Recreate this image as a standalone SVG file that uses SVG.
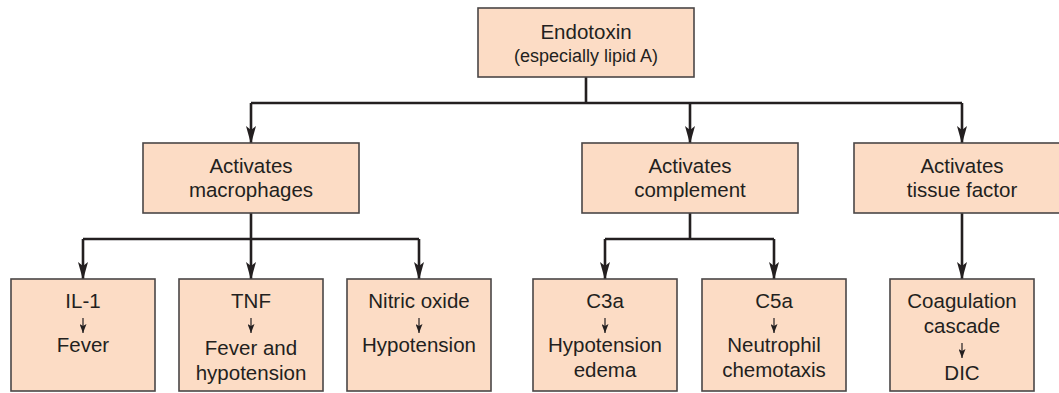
<svg xmlns="http://www.w3.org/2000/svg" width="1059" height="393" viewBox="0 0 1059 393">
<defs>
<style>
.box{fill:#fcdcc5;stroke:#4a4646;stroke-width:1.6}
.t{font-family:"Liberation Sans",Arial,sans-serif;font-size:20.5px;fill:#231f20;text-anchor:middle}
.s{font-size:18px}
.c{fill:none;stroke:#231f20;stroke-width:2.6}
.sm{fill:none;stroke:#231f20;stroke-width:1.2}
</style>
<marker id="ah" viewBox="0 0 18 10" refX="17" refY="5" markerWidth="18" markerHeight="10" orient="auto" markerUnits="userSpaceOnUse"><path d="M0,0 L18,5 L0,10 L4,5 z" fill="#231f20"/></marker>
<marker id="sa" viewBox="0 0 9 7" refX="9" refY="3.5" markerWidth="9" markerHeight="7" orient="auto" markerUnits="userSpaceOnUse"><path d="M0,0 L9,3.5 L0,7 L2,3.5 z" fill="#231f20"/></marker>
</defs>
<rect width="1059" height="393" fill="#ffffff"/>
<g id="connectors">
<path class="c" d="M586,77 V103 M251,103 H962"/>
<path class="c" d="M251,103 V143" marker-end="url(#ah)"/>
<path class="c" d="M690,103 V143" marker-end="url(#ah)"/>
<path class="c" d="M962,103 V143" marker-end="url(#ah)"/>
<path class="c" d="M251,213 V239 M83,239 H419 M605,239 H774 M690,213 V239"/>
<path class="c" d="M83,239 V279" marker-end="url(#ah)"/>
<path class="c" d="M251,239 V279" marker-end="url(#ah)"/>
<path class="c" d="M419,239 V279" marker-end="url(#ah)"/>
<path class="c" d="M605,239 V279" marker-end="url(#ah)"/>
<path class="c" d="M774,239 V279" marker-end="url(#ah)"/>
<path class="c" d="M962,213 V279" marker-end="url(#ah)"/>
</g>
<g id="endotoxin">
<rect class="box" x="478" y="8" width="216" height="69"/>
<text class="t" x="586" y="39">Endotoxin</text>
<text class="t s" x="586" y="62">(especially lipid A)</text>
</g>
<g id="macrophages">
<rect class="box" x="143" y="143" width="216" height="70"/>
<text class="t" x="251" y="173">Activates</text>
<text class="t" x="251" y="197">macrophages</text>
</g>
<g id="complement">
<rect class="box" x="582" y="143" width="216" height="70"/>
<text class="t" x="690" y="173">Activates</text>
<text class="t" x="690" y="197">complement</text>
</g>
<g id="tissuefactor">
<rect class="box" x="854" y="143" width="216" height="70"/>
<text class="t" x="962" y="173">Activates</text>
<text class="t" x="962" y="197">tissue factor</text>
</g>
<g id="il1">
<rect class="box" x="11" y="279" width="144" height="112"/>
<text class="t" x="83" y="308">IL-1</text>
<path class="sm" d="M83,318 V333" marker-end="url(#sa)"/>
<text class="t" x="83" y="352">Fever</text>
</g>
<g id="tnf">
<rect class="box" x="179" y="279" width="144" height="112"/>
<text class="t" x="251" y="308">TNF</text>
<path class="sm" d="M251,318 V333" marker-end="url(#sa)"/>
<text class="t" x="251" y="355">Fever and</text>
<text class="t" x="251" y="380">hypotension</text>
</g>
<g id="nitricoxide">
<rect class="box" x="347" y="279" width="144" height="112"/>
<text class="t" x="419" y="308">Nitric oxide</text>
<path class="sm" d="M419,318 V333" marker-end="url(#sa)"/>
<text class="t" x="419" y="352">Hypotension</text>
</g>
<g id="c3a">
<rect class="box" x="533" y="279" width="144" height="112"/>
<text class="t" x="605" y="308">C3a</text>
<path class="sm" d="M605,318 V333" marker-end="url(#sa)"/>
<text class="t" x="605" y="352">Hypotension</text>
<text class="t" x="605" y="377">edema</text>
</g>
<g id="c5a">
<rect class="box" x="702" y="279" width="144" height="112"/>
<text class="t" x="774" y="308">C5a</text>
<path class="sm" d="M774,318 V333" marker-end="url(#sa)"/>
<text class="t" x="774" y="352">Neutrophil</text>
<text class="t" x="774" y="377">chemotaxis</text>
</g>
<g id="coagulation">
<rect class="box" x="890" y="279" width="144" height="112"/>
<text class="t" x="962" y="308">Coagulation</text>
<text class="t" x="962" y="333">cascade</text>
<path class="sm" d="M962,343 V358" marker-end="url(#sa)"/>
<text class="t" x="962" y="380">DIC</text>
</g>
</svg>
